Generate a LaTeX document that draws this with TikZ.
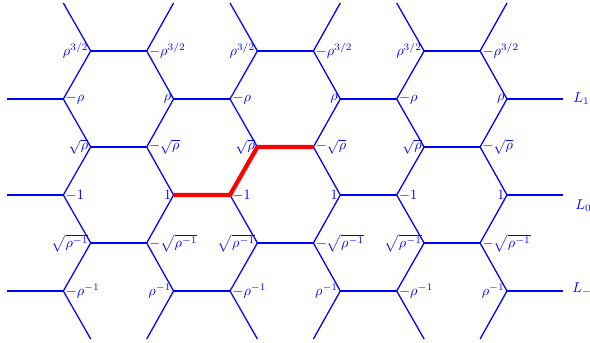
\documentclass[tikz,border=0pt]{standalone}
\begin{document}
\begin{tikzpicture}[x=0.7pt,y=-0.7pt,
  edge/.style={blue, line width=0.9pt},
  hl/.style={red, line width=3pt},
  labL/.style={text=blue, inner sep=1.5pt, anchor=east},
  labR/.style={text=blue, inner sep=1.5pt, anchor=west},
  llab/.style={text=blue, inner sep=0pt, anchor=west}]
\useasboundingbox (0,0) rectangle (590,343);
% vertices: P = left zigzag, Q = right zigzag of each column
\foreach \k in {0,1,2}{
  \foreach \r in {0,...,7}{
    \pgfmathsetmacro\yy{3+48*\r}
    \ifodd\r
      \coordinate (P\k-\r) at ({90.7+166.7*\k},\yy);
      \coordinate (Q\k-\r) at ({146.7+166.7*\k},\yy);
    \else
      \coordinate (P\k-\r) at ({63.3+166.7*\k},\yy);
      \coordinate (Q\k-\r) at ({173.6+166.7*\k},\yy);
    \fi
  }
}
\foreach \r in {2,4,6}{
  \pgfmathsetmacro\yy{3+48*\r}
  \coordinate (Lt\r) at (7.3,\yy);
  \coordinate (Rt\r) at (563.3,\yy);
}
% zigzags
\foreach \k in {0,1,2}{
  \draw[edge,line join=round] (P\k-0) \foreach \r in {1,...,7}{ -- (P\k-\r)};
  \draw[edge,line join=round] (Q\k-0) \foreach \r in {1,...,7}{ -- (Q\k-\r)};
}
% horizontal edges
\foreach \k in {0,1,2}{
  \foreach \r in {1,3,5}{
    \draw[edge] (P\k-\r) -- (Q\k-\r);
  }
}
\foreach \r in {2,4,6}{
  \draw[edge] (Lt\r) -- (P0-\r) (Q0-\r) -- (P1-\r) (Q1-\r) -- (P2-\r) (Q2-\r) -- (Rt\r);
}
% highlighted path
\draw[hl,line join=round] (Q0-4) -- (P1-4) -- (P1-3) -- (Q1-3);
% labels
\foreach \k in {0,1,2}{
  \node[labL] (a\k) at (P\k-1) {$\rho^{3/2}$};
  \node[labR] (b\k) at (Q\k-1) {$-\rho^{3/2}$};
  \node[labR] (c\k) at (P\k-2) {$-\rho$};
  \node[labL] (d\k) at (Q\k-2) {$\rho$};
  \node[labL] (e\k) at (P\k-3) {$\sqrt{\rho}$};
  \node[labR] (f\k) at (Q\k-3) {$-\sqrt{\rho}$};
  \node[labR] (g\k) at (P\k-4) {$-1$};
  \node[labL] (h\k) at (Q\k-4) {$1$};
  \node[labL] (i\k) at (P\k-5) {$\sqrt{\rho^{-1}}$};
  \node[labR] (j\k) at (Q\k-5) {$-\sqrt{\rho^{-1}}$};
  \node[labR] (m\k) at (P\k-6) {$-\rho^{-1}$};
  \node[labL] (n\k) at (Q\k-6) {$\rho^{-1}$};
}
\node[llab] (Lone) at (573,99) {$L_1$};
\node[llab] (Lzero) at (575,206) {$L_0$};
\node[llab] (Lmone) at (572,289) {$L_{-1}$};
\end{tikzpicture}
\end{document}
